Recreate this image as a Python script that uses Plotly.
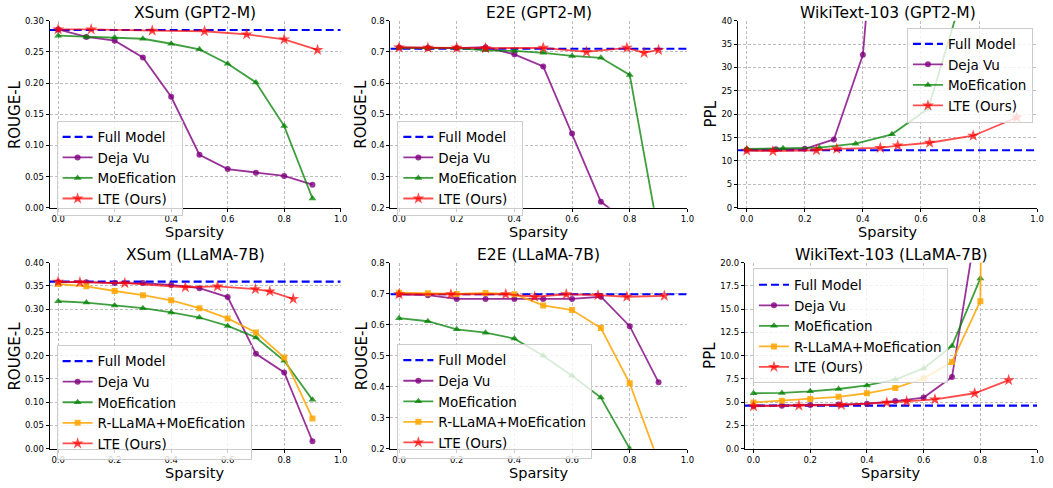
import plotly.graph_objects as go

W, H = 1053, 488

# ---------------- data ----------------
# XSum (GPT2-M)
xsum_g_full = 0.285
xsum_g_dv_x = [0.0, 0.1, 0.2, 0.3, 0.4, 0.5, 0.6, 0.7, 0.8, 0.9]
xsum_g_dv_y = [0.286, 0.274, 0.268, 0.241, 0.178, 0.085, 0.062, 0.056, 0.051, 0.037]
xsum_g_moe_x = [0.0, 0.1, 0.2, 0.3, 0.4, 0.5, 0.6, 0.7, 0.8, 0.9]
xsum_g_moe_y = [0.276, 0.274, 0.273, 0.271, 0.263, 0.254, 0.231, 0.201, 0.131, 0.015]
xsum_g_lte_x = [0.0, 0.117, 0.333, 0.518, 0.667, 0.80, 0.918]
xsum_g_lte_y = [0.286, 0.286, 0.284, 0.283, 0.278, 0.270, 0.253]

# E2E (GPT2-M)
e2e_g_full = 0.710
e2e_g_dv_x = [0.0, 0.1, 0.2, 0.3, 0.4, 0.5, 0.6, 0.7, 0.8]
e2e_g_dv_y = [0.714, 0.712, 0.712, 0.715, 0.692, 0.653, 0.438, 0.219, 0.150]
e2e_g_moe_x = [0.0, 0.1, 0.2, 0.3, 0.4, 0.5, 0.6, 0.7, 0.8, 0.9]
e2e_g_moe_y = [0.713, 0.712, 0.712, 0.705, 0.703, 0.697, 0.687, 0.681, 0.626, 0.115]
e2e_g_lte_x = [0.0, 0.1, 0.2, 0.3, 0.5, 0.65, 0.79, 0.85, 0.9]
e2e_g_lte_y = [0.714, 0.713, 0.713, 0.712, 0.713, 0.700, 0.713, 0.697, 0.706]

# WikiText-103 (GPT2-M)
wiki_g_full = 12.3
wiki_g_dv_x = [0.0, 0.1, 0.2, 0.3, 0.4, 0.5]
wiki_g_dv_y = [12.4, 12.5, 12.6, 14.6, 32.7, 106.0]
wiki_g_moe_x = [0.0, 0.125, 0.25, 0.375, 0.5, 0.625, 0.75]
wiki_g_moe_y = [12.6, 12.7, 12.85, 13.7, 15.7, 21.2, 47.0]
wiki_g_lte_x = [0.0, 0.09, 0.24, 0.31, 0.46, 0.52, 0.63, 0.78, 0.93]
wiki_g_lte_y = [12.2, 12.1, 12.3, 12.6, 12.8, 13.3, 13.9, 15.4, 19.3]

# XSum (LLaMA-7B)
xsum_l_full = 0.359
xsum_l_dv_x = [0.0, 0.1, 0.2, 0.3, 0.4, 0.5, 0.6, 0.7, 0.8, 0.9]
xsum_l_dv_y = [0.358, 0.358, 0.356, 0.356, 0.352, 0.345, 0.326, 0.204, 0.164, 0.016]
xsum_l_moe_x = [0.0, 0.1, 0.2, 0.3, 0.4, 0.5, 0.6, 0.7, 0.8, 0.9]
xsum_l_moe_y = [0.317, 0.314, 0.308, 0.302, 0.293, 0.282, 0.264, 0.239, 0.189, 0.105]
xsum_l_rl_x = [0.0, 0.1, 0.2, 0.3, 0.4, 0.5, 0.6, 0.7, 0.8, 0.9]
xsum_l_rl_y = [0.354, 0.349, 0.339, 0.330, 0.319, 0.302, 0.280, 0.250, 0.196, 0.065]
xsum_l_lte_x = [0.0, 0.077, 0.236, 0.45, 0.564, 0.698, 0.749, 0.832]
xsum_l_lte_y = [0.359, 0.358, 0.356, 0.347, 0.349, 0.343, 0.338, 0.322]

# E2E (LLaMA-7B)
e2e_l_full = 0.698
e2e_l_dv_x = [0.0, 0.1, 0.2, 0.3, 0.4, 0.5, 0.6, 0.7, 0.8, 0.9]
e2e_l_dv_y = [0.698, 0.695, 0.683, 0.683, 0.683, 0.683, 0.683, 0.690, 0.595, 0.414]
e2e_l_moe_x = [0.0, 0.1, 0.2, 0.3, 0.4, 0.5, 0.6, 0.7, 0.8]
e2e_l_moe_y = [0.621, 0.611, 0.585, 0.574, 0.555, 0.500, 0.435, 0.365, 0.200]
e2e_l_rl_x = [0.0, 0.1, 0.2, 0.3, 0.4, 0.5, 0.6, 0.7, 0.8, 0.9]
e2e_l_rl_y = [0.703, 0.701, 0.699, 0.702, 0.698, 0.662, 0.647, 0.589, 0.411, 0.157]
e2e_l_lte_x = [0.0, 0.18, 0.37, 0.47, 0.58, 0.69, 0.79, 0.92]
e2e_l_lte_y = [0.698, 0.698, 0.698, 0.690, 0.698, 0.695, 0.690, 0.693]

# WikiText-103 (LLaMA-7B)
wiki_l_full = 4.63
wiki_l_dv_x = [0.0, 0.1, 0.2, 0.3, 0.4, 0.5, 0.6, 0.7, 0.8]
wiki_l_dv_y = [4.63, 4.63, 4.70, 4.74, 4.84, 5.12, 5.50, 7.70, 26.6]
wiki_l_moe_x = [0.0, 0.1, 0.2, 0.3, 0.4, 0.5, 0.6, 0.7, 0.8]
wiki_l_moe_y = [5.96, 6.00, 6.17, 6.42, 6.80, 7.44, 8.63, 11.05, 18.3]
wiki_l_rl_x = [0.0, 0.1, 0.2, 0.3, 0.4, 0.5, 0.6, 0.7, 0.8, 0.9]
wiki_l_rl_y = [4.98, 5.16, 5.33, 5.58, 5.96, 6.53, 7.54, 9.33, 15.86, 300.0]
wiki_l_lte_x = [0.0, 0.16, 0.31, 0.47, 0.54, 0.64, 0.78, 0.90]
wiki_l_lte_y = [4.56, 4.63, 4.70, 4.95, 5.09, 5.30, 5.96, 7.37]

titles = ["XSum (GPT2-M)", "E2E (GPT2-M)", "WikiText-103 (GPT2-M)",
          "XSum (LLaMA-7B)", "E2E (LLaMA-7B)", "WikiText-103 (LLaMA-7B)"]
ylabels = ["ROUGE-L", "ROUGE-L", "PPL", "ROUGE-L", "ROUGE-L", "PPL"]
x_ticks = [0.0, 0.2, 0.4, 0.6, 0.8, 1.0]

# ---------------- styling ----------------
FONT = "DejaVu Sans"
C_FULL = "#0000ff"
C_DV = "rgba(128,0,128,0.8)"
C_MOE = "rgba(0,128,0,0.75)"
C_RL = "rgba(255,165,0,0.85)"
C_LTE = "rgba(255,0,0,0.7)"

def X(px):
    return px / W

def Y(py):
    return 1 - py / H

# panel geometry in pixels: (left, right, top, bottom)
panels = [
    (50, 343, 16, 207),
    (393, 692, 16, 207),
    (743, 1044, 16, 207),
    (50, 343, 263, 453),
    (393, 692, 263, 453),
    (750, 1044, 263, 453),
]
yranges = [(0, 0.30), (0.2, 0.8), (0, 40), (0, 0.40), (0.2, 0.8), (0, 20)]
ydticks = [0.05, 0.1, 5, 0.05, 0.1, 2.5]
yfmts = [".2f", ".1f", "d", ".2f", ".1f", ".1f"]
legend_pos = [(57, 118), (400, 118), (913, 23), (57, 347), (400, 346), (758, 269)]
ylabel_x = [15, 364, 716, 15, 364, 714]

panel_data = [
    (xsum_g_full, (xsum_g_dv_x, xsum_g_dv_y), (xsum_g_moe_x, xsum_g_moe_y), None, (xsum_g_lte_x, xsum_g_lte_y)),
    (e2e_g_full, (e2e_g_dv_x, e2e_g_dv_y), (e2e_g_moe_x, e2e_g_moe_y), None, (e2e_g_lte_x, e2e_g_lte_y)),
    (wiki_g_full, (wiki_g_dv_x, wiki_g_dv_y), (wiki_g_moe_x, wiki_g_moe_y), None, (wiki_g_lte_x, wiki_g_lte_y)),
    (xsum_l_full, (xsum_l_dv_x, xsum_l_dv_y), (xsum_l_moe_x, xsum_l_moe_y), (xsum_l_rl_x, xsum_l_rl_y), (xsum_l_lte_x, xsum_l_lte_y)),
    (e2e_l_full, (e2e_l_dv_x, e2e_l_dv_y), (e2e_l_moe_x, e2e_l_moe_y), (e2e_l_rl_x, e2e_l_rl_y), (e2e_l_lte_x, e2e_l_lte_y)),
    (wiki_l_full, (wiki_l_dv_x, wiki_l_dv_y), (wiki_l_moe_x, wiki_l_moe_y), (wiki_l_rl_x, wiki_l_rl_y), (wiki_l_lte_x, wiki_l_lte_y)),
]

fig = go.Figure()
annotations = []
XMIN, XMAX = -0.03, 1.0

for i, (full, dv, moe, rl, lte) in enumerate(panel_data):
    n = "" if i == 0 else str(i + 1)
    xa, ya = "x" + n, "y" + n
    lg = "legend" + n
    fig.add_trace(go.Scatter(x=[XMIN, XMAX], y=[full, full], mode="lines", name="Full Model",
                             line=dict(color=C_FULL, width=2.2, dash="8px,4px"),
                             xaxis=xa, yaxis=ya, legend=lg))
    fig.add_trace(go.Scatter(x=dv[0], y=dv[1], mode="lines+markers", name="Deja Vu",
                             line=dict(color=C_DV, width=1.8),
                             marker=dict(symbol="circle", size=6, color=C_DV),
                             xaxis=xa, yaxis=ya, legend=lg))
    fig.add_trace(go.Scatter(x=moe[0], y=moe[1], mode="lines+markers", name="MoEfication",
                             line=dict(color=C_MOE, width=1.8),
                             marker=dict(symbol="triangle-up", size=7, color=C_MOE),
                             xaxis=xa, yaxis=ya, legend=lg))
    if rl is not None:
        fig.add_trace(go.Scatter(x=rl[0], y=rl[1], mode="lines+markers", name="R-LLaMA+MoEfication",
                                 line=dict(color=C_RL, width=1.8),
                                 marker=dict(symbol="square", size=6, color=C_RL),
                                 xaxis=xa, yaxis=ya, legend=lg))
    fig.add_trace(go.Scatter(x=lte[0], y=lte[1], mode="lines+markers", name="LTE (Ours)",
                             line=dict(color=C_LTE, width=1.8),
                             marker=dict(symbol="star", size=9, color=C_LTE),
                             xaxis=xa, yaxis=ya, legend=lg))

    l, r, t, b = panels[i]
    axis_common = dict(showline=True, linecolor="black", linewidth=1.2, mirror=False,
                       ticks="outside", ticklen=3, tickwidth=1, tickcolor="black",
                       showgrid=True, gridcolor="#bdbdbd", griddash="3px,2px", gridwidth=0.8,
                       zeroline=False, tickfont=dict(family=FONT, size=8.5, color="black"))
    fig.layout["xaxis" + n] = dict(domain=[X(l), X(r)], range=[XMIN, XMAX], anchor=ya,
                                  tickvals=x_ticks, tickformat=".1f", **axis_common)
    fig.layout["yaxis" + n] = dict(domain=[Y(b), Y(t)], range=list(yranges[i]), anchor=xa,
                                  dtick=ydticks[i], tick0=0, tickformat=yfmts[i], **axis_common)
    lx, ly = legend_pos[i]
    fig.layout[lg] = dict(x=X(lx), y=Y(ly), xanchor="left", yanchor="top",
                          bgcolor="rgba(255,255,255,0.8)", bordercolor="#cccccc", borderwidth=1,
                          font=dict(family=FONT, size=13.5, color="black"),
                          tracegroupgap=0, itemwidth=30)
    cx = X((l + r) / 2)
    title_y = 8 if i < 3 else 255
    annotations.append(dict(text=titles[i], x=cx, y=Y(title_y), xref="paper", yref="paper",
                            showarrow=False, xanchor="center", yanchor="middle",
                            font=dict(family=FONT, size=15.5, color="black")))
    sp_y = 232 if i < 3 else 478
    annotations.append(dict(text="Sparsity", x=cx, y=Y(sp_y), xref="paper", yref="paper",
                            showarrow=False, xanchor="center", yanchor="middle",
                            font=dict(family=FONT, size=14.5, color="black")))
    annotations.append(dict(text=ylabels[i], x=X(ylabel_x[i]), y=Y((t + b) / 2), xref="paper", yref="paper",
                            showarrow=False, xanchor="center", yanchor="middle", textangle=-90,
                            font=dict(family=FONT, size=15, color="black")))

fig.update_layout(width=W, height=H, margin=dict(l=0, r=0, t=0, b=0),
                  paper_bgcolor="white", plot_bgcolor="white",
                  annotations=annotations, showlegend=True,
                  font=dict(family=FONT))

fig.write_html("out.html", config={"displayModeBar": False},
               post_script="document.body.style.margin='0';document.body.style.padding='0';")
